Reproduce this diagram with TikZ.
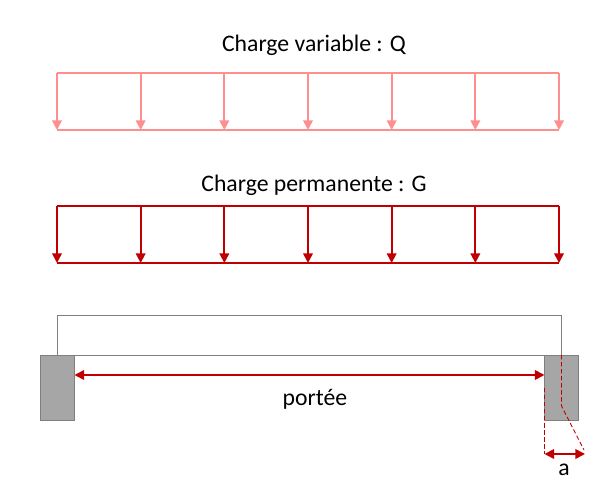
\documentclass[tikz,border=0pt]{standalone}
\usepackage{fontspec}
\setmainfont{Carlito}
\usepackage{tikz}
\usetikzlibrary{arrows.meta, positioning, calc}
\definecolor{lightload}{HTML}{FF8F8F}
\definecolor{darkload}{HTML}{C00000}
\definecolor{beamgray}{HTML}{7F7F7F}
\definecolor{supportgray}{HTML}{A6A6A6}
\tikzstyle{arrow} = [line width=1pt,-{Triangle[length=5.5pt,width=5.5pt]}]

\begin{document}
\begin{tikzpicture}[x=0.02cm, y=-0.02cm,
      title/.style={font=\fontsize{13.5}{15}\selectfont, inner sep=0pt},
      support/.style={draw=beamgray, fill=supportgray, line width=0.5pt, minimum width=0.68cm, minimum height=1.3cm, inner sep=0pt, outer sep=0pt},
      span/.style={line width=1pt, darkload, {Triangle[length=5.5pt,width=5.5pt]}-{Triangle[length=5.5pt,width=5.5pt]}},
      dim/.style={line width=0.5pt, darkload, dashed, dash pattern=on 2.5pt off 1.5pt}
          ]
        \useasboundingbox (0,0) rectangle (602,492);

        % Load titles
        \node (titleQ) [title] at (314,45.5) {Charge variable : Q};
        \node (titleG) [title] at (314,185.5) {Charge permanente : G};

        % Variable load
        \coordinate (q0) at (57,73);
        \coordinate (q6) at (559,73);
        \coordinate (qb0) at (57,130);
        \coordinate (qb6) at (559,130);
        \draw [lightload, line width=1pt] (q0) -- (q6);
        \draw [lightload, line width=1pt] (qb0) -- (qb6);
        \foreach \i in {0,...,6} {
          \draw [arrow, lightload] ($(q0)!\i/6!(q6)$) -- ($(qb0)!\i/6!(qb6)$);
        }

        % Permanent load
        \coordinate (g0) at (57,206);
        \coordinate (g6) at (559,206);
        \coordinate (gb0) at (57,263);
        \coordinate (gb6) at (559,263);
        \draw [darkload, line width=1pt] (g0) -- (g6);
        \draw [darkload, line width=1pt] (gb0) -- (gb6);
        \foreach \i in {0,...,6} {
          \draw [arrow, darkload] ($(g0)!\i/6!(g6)$) -- ($(gb0)!\i/6!(gb6)$);
        }

        % Supports
        \node (supportL) [support] at (57.5,387.5) {};
        \node (supportR) [support] at (561.5,387.5) {};

        % Beam
        \draw [beamgray, line width=0.5pt] (supportL.north) -- ++(0,-40) -| (supportR.north);
        \draw [beamgray, line width=0.5pt] (supportL.north east) -- (supportR.north west);

        % Span
        \coordinate (spanL) at (supportL.east |- 0,375);
        \coordinate (spanR) at (supportR.west |- 0,375);
        \draw [span] (spanL) -- (spanR);
        \node (span label) [title] at (315,399) {portée};

        % Bearing length
        \coordinate (aL) at (supportR.west |- 0,454);
        \coordinate (aR) at (585,454);
        \coordinate (axis) at (supportR.center |- 0,406);
        \draw [dim] (supportR.west |- 0,388) -- (aL);
        \draw [dim] (supportR.north) -- (axis) -- (584,450);
        \draw [span] (aL) -- (aR);
        \node (a label) [title] at (564,470) {a};

          \end{tikzpicture}
\end{document}
